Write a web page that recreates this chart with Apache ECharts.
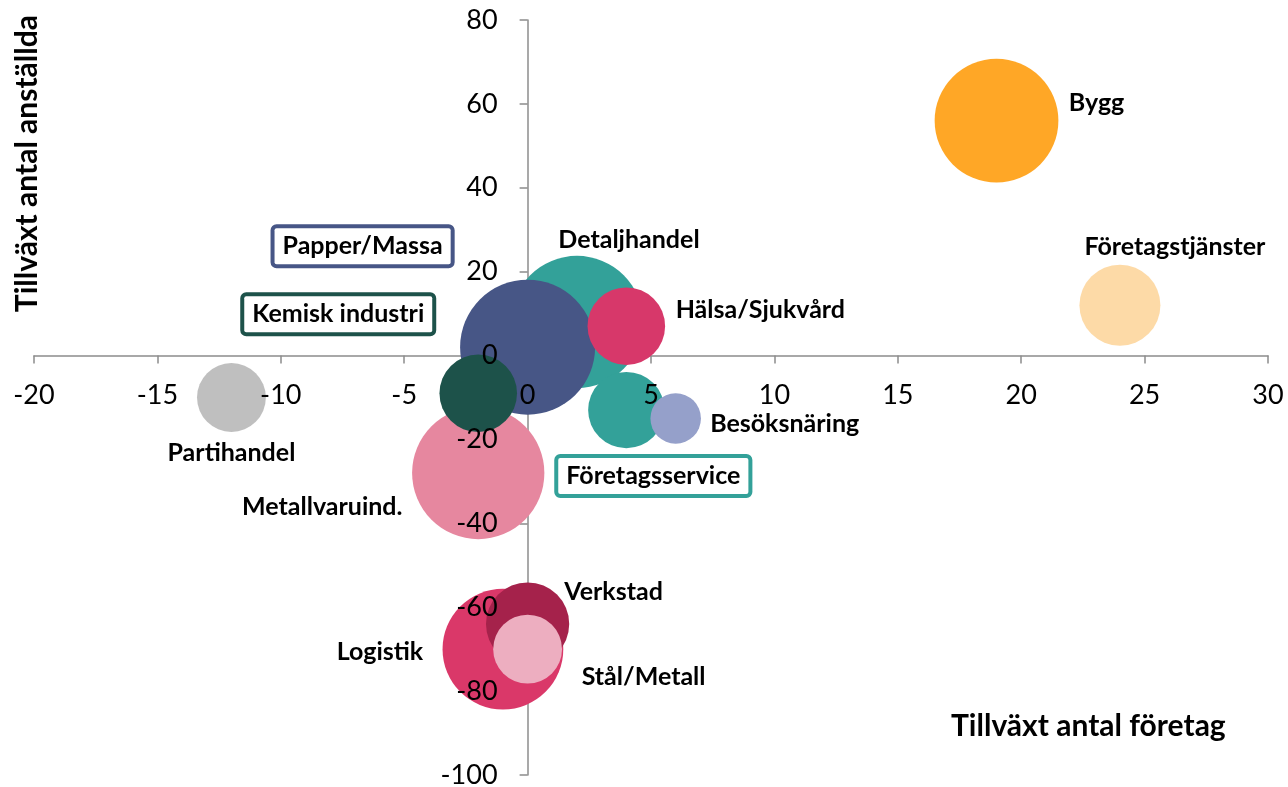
<!DOCTYPE html>
<html>
<head>
<meta charset="utf-8">
<script src="https://cdn.jsdelivr.net/npm/echarts@6/dist/echarts.min.js"></script>
<style>
html, body { margin: 0; padding: 0; background: #fff; }
#myChart { width: 1288px; height: 787px; }
</style>
</head>
<body>
<div id="myChart"></div>
<script>
// branscher, ritas i denna ordning (senare hamnar överst)
const names = ['Bygg', 'Företagstjänster', 'Detaljhandel', 'Papper/Massa', 'Hälsa/Sjukvård', 'Företagsservice', 'Besöksnäring', 'Metallvaruind.', 'Kemisk industri', 'Partihandel', 'Logistik', 'Verkstad', 'Stål/Metall']
const tillvaxtForetag = [19, 24, 2, 0, 4, 4, 6, -2, -2, -12, -1, 0, 0]
const tillvaxtAnstallda = [56, 12, 8, 2, 7, -13, -15, -28, -9, -10, -70, -64, -70]
const storlek = [84, 36, 96, 100, 33, 32, 14, 96, 33, 26, 80, 38, 26]

// axlar: min, max, steg
const xTicks = [-20, 30, 5]
const yTicks = [-100, 80, 20]

const colors = {
  'Bygg': '#FFA726',
  'Företagstjänster': '#FDDAA7',
  'Detaljhandel': '#33A199',
  'Papper/Massa': '#475686',
  'Hälsa/Sjukvård': '#D7386A',
  'Företagsservice': '#33A199',
  'Besöksnäring': '#95A0CA',
  'Metallvaruind.': '#E6879F',
  'Kemisk industri': '#1D524A',
  'Partihandel': '#BFBFBF',
  'Logistik': '#DA3869',
  'Verkstad': '#A5224B',
  'Stål/Metall': '#EDAEC0'
}
// etikettens mitt relativt bubblan (px)
const labelOffset = {
  'Bygg': [100, -18],
  'Företagstjänster': [55, -58],
  'Detaljhandel': [52, -82],
  'Papper/Massa': [-165, -101],
  'Hälsa/Sjukvård': [134, -16],
  'Företagsservice': [27, 66],
  'Besöksnäring': [109, 5],
  'Metallvaruind.': [-156, 34],
  'Kemisk industri': [-140, -79],
  'Partihandel': [0, 55],
  'Logistik': [-123, 3],
  'Verkstad': [86, -32],
  'Stål/Metall': [116, 28]
}
const boxed = ['Papper/Massa', 'Kemisk industri', 'Företagsservice']

const FONT = 'Lato'
const W = 1288, H = 787
const grid = { left: 34, right: 20, top: 20, bottom: 12 }

// var nollan hamnar, så att sifferaxlarna kan läggas där (onZero funkar bara för första axeln)
const zeroY = grid.top + (H - grid.top - grid.bottom) * yTicks[1] / (yTicks[1] - yTicks[0])
const zeroX = grid.left + (W - grid.left - grid.right) * (-xTicks[0]) / (xTicks[1] - xTicks[0])

const data = names.map((n, i) => {
  const item = {
    name: n,
    value: [tillvaxtForetag[i], tillvaxtAnstallda[i], storlek[i]],
    itemStyle: { color: colors[n], opacity: 1 },
    label: { offset: labelOffset[n] }
  }
  if (boxed.includes(n)) {
    item.label.backgroundColor = '#fff'
    item.label.borderColor = colors[n]
    item.label.borderWidth = 4
    item.label.borderRadius = 2
    item.label.padding = [6, 8, 5, 8]
  }
  return item
})

const axisCommonX = {
  type: 'value',
  min: xTicks[0],
  max: xTicks[1],
  interval: xTicks[2],
  splitLine: { show: false }
}
const axisCommonY = {
  type: 'value',
  min: yTicks[0],
  max: yTicks[1],
  interval: yTicks[2],
  splitLine: { show: false }
}

const option = {
  animation: false,
  backgroundColor: '#fff',
  textStyle: { fontFamily: FONT },
  grid: Object.assign({ outerBoundsMode: 'none', containLabel: false }, grid),
  xAxis: [
    // linje + streck under bubblorna
    Object.assign({}, axisCommonX, {
      position: 'bottom',
      axisLine: { show: true, onZero: true, lineStyle: { color: '#8C8C8C', width: 1.5 } },
      axisTick: { show: true, inside: false, length: 8, lineStyle: { color: '#8C8C8C', width: 1.5 } },
      axisLabel: { show: false }
    }),
    // siffror ovanpå bubblorna, flyttad ner till y = 0
    Object.assign({}, axisCommonX, {
      position: 'top',
      offset: -(zeroY - grid.top),
      z: 10,
      axisLine: { show: false, onZero: false },
      axisTick: { show: false },
      axisLabel: { show: true, inside: true, margin: 26, color: '#000', fontSize: 27, fontFamily: FONT }
    })
  ],
  yAxis: [
    Object.assign({}, axisCommonY, {
      position: 'left',
      axisLine: { show: true, onZero: true, lineStyle: { color: '#8C8C8C', width: 1.5 } },
      axisTick: { show: true, inside: false, length: 8, lineStyle: { color: '#8C8C8C', width: 1.5 } },
      axisLabel: { show: false }
    }),
    Object.assign({}, axisCommonY, {
      position: 'right',
      offset: -((W - grid.right) - zeroX),
      z: 10,
      axisLine: { show: false, onZero: false },
      axisTick: { show: false },
      axisLabel: { show: true, inside: true, margin: 30, color: '#000', fontSize: 27, fontFamily: FONT }
    })
  ],
  graphic: [
    {
      type: 'text',
      left: 12,
      top: 15,
      style: {
        text: 'Tillväxt antal anställda',
        fontFamily: FONT,
        fontWeight: 'bold',
        fontSize: 30,
        fill: '#000'
      },
      rotation: Math.PI / 2,
      originX: 0,
      originY: 0
    },
    {
      type: 'text',
      left: 951,
      top: 711,
      style: {
        text: 'Tillväxt antal företag',
        fontFamily: FONT,
        fontWeight: 'bold',
        fontSize: 30,
        fill: '#000'
      }
    }
  ],
  series: [{
    type: 'scatter',
    xAxisIndex: 0,
    yAxisIndex: 0,
    data: data,
    symbolSize: (val) => 13.5 * Math.sqrt(val[2]),
    label: {
      show: true,
      position: 'inside',
      formatter: '{b}',
      color: '#000',
      fontFamily: FONT,
      fontWeight: 'bold',
      fontSize: 25
    },
    emphasis: { disabled: true }
  }, {
    // osynlig kopia för sifferaxlarna
    type: 'scatter',
    xAxisIndex: 1,
    yAxisIndex: 1,
    data: names.map((n, i) => [tillvaxtForetag[i], tillvaxtAnstallda[i]]),
    symbolSize: 0,
    itemStyle: { opacity: 0 },
    silent: true
  }]
}

const myChart = echarts.init(document.getElementById('myChart'))
myChart.setOption(option)
</script>
</body>
</html>
